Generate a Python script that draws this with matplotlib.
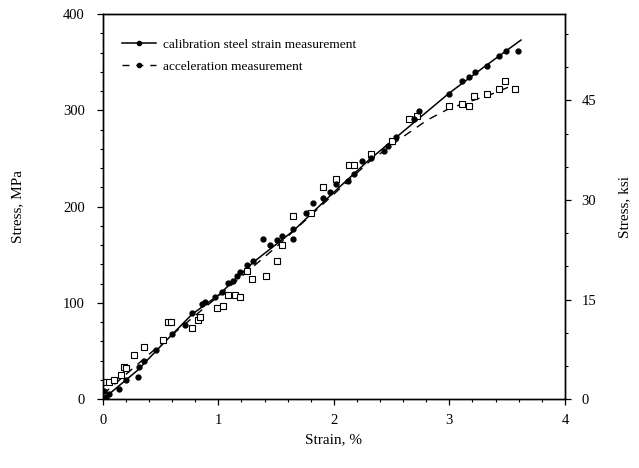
import matplotlib.pyplot as plt
from matplotlib.lines import Line2D
from matplotlib.ticker import MultipleLocator

plt.rcParams['font.family'] = ['Liberation Serif', 'DejaVu Serif']

# calibration steel strain measurement (filled circles)
cal_strain = [0.01, 0.03, 0.05, 0.14, 0.2, 0.3, 0.31, 0.36, 0.46, 0.6, 0.71, 0.77,
              0.86, 0.88, 0.97, 1.03, 1.08, 1.13, 1.16, 1.19, 1.25, 1.30, 1.39, 1.45,
              1.51, 1.55, 1.65, 1.65, 1.76, 1.82, 1.91, 1.97, 2.02, 2.12, 2.17, 2.24,
              2.32, 2.43, 2.47, 2.54, 2.69, 2.74, 3.0, 3.11, 3.17, 3.22, 3.33, 3.43,
              3.49, 3.59]
cal_stress = [9, 2, 5, 11, 20, 23, 33, 40, 51, 68, 77, 90,
              99, 101, 106, 111, 121, 123, 128, 132, 139, 144, 166, 160,
              165, 170, 166, 177, 193, 204, 209, 215, 224, 227, 234, 247,
              250, 258, 263, 272, 291, 299, 317, 330, 335, 340, 346, 356,
              362, 362]

# acceleration measurement (open squares)
acc_strain = [0.01, 0.05, 0.1, 0.16, 0.18, 0.2, 0.27, 0.36, 0.52, 0.56, 0.59, 0.77,
              0.82, 0.84, 0.99, 1.04, 1.08, 1.14, 1.19, 1.25, 1.29, 1.41, 1.51, 1.55,
              1.65, 1.80, 1.91, 2.02, 2.13, 2.17, 2.32, 2.50, 2.65, 2.72, 3.0, 3.11,
              3.17, 3.21, 3.33, 3.43, 3.48, 3.57]
acc_stress = [18, 18, 20, 25, 33, 32, 46, 54, 61, 80, 80, 74,
              82, 85, 95, 97, 108, 108, 106, 133, 125, 128, 144, 160,
              190, 193, 220, 229, 243, 243, 255, 268, 291, 294, 304, 307,
              304, 315, 317, 322, 330, 322]

# fitted curves as drawn in the figure
cal_fit_x = [0.0, 0.3, 0.5, 0.77, 1.0, 1.3, 1.65, 2.0, 2.3, 2.56, 3.0, 3.3, 3.62]
cal_fit_y = [0, 30, 55, 88, 108, 142, 175, 215, 248, 274, 318, 345, 373]
acc_fit_x = [0.0, 0.5, 1.0, 1.5, 2.0, 2.3, 2.58, 2.81, 3.0, 3.37, 3.55]
acc_fit_y = [5, 57, 107, 158, 213, 246, 271, 290, 302, 317, 326]

MPA_PER_KSI = 6.895

fig = plt.figure(figsize=(6.39, 4.68), dpi=100)
ax = fig.add_axes([0.161, 0.147, 0.723, 0.823])

ax.plot(cal_fit_x, cal_fit_y, color='black', lw=1.1)
ax.plot(acc_fit_x, acc_fit_y, color='black', lw=1.0, ls=(0, (6, 5)))
ax.plot(acc_strain, acc_stress, ls='none', marker='s', ms=4.5, mfc='white',
        mec='black', mew=0.8)
ax.plot(cal_strain, cal_stress, ls='none', marker='o', ms=3.5, color='black')

ax.set_xlim(0, 4)
ax.set_ylim(0, 400)
ax.xaxis.set_major_locator(MultipleLocator(1))
ax.xaxis.set_minor_locator(MultipleLocator(0.2))
ax.yaxis.set_major_locator(MultipleLocator(100))
ax.yaxis.set_minor_locator(MultipleLocator(20))
ax.tick_params(which='major', direction='out', length=4, width=0.9, labelsize=10.5)
ax.tick_params(axis='x', which='major', pad=7)
ax.tick_params(axis='y', which='major', pad=9)
ax.tick_params(which='minor', direction='out', length=2.5, width=0.8)
ax.set_xlabel('Strain, %', fontsize=11, labelpad=4)
ax.set_ylabel('Stress, MPa', fontsize=11, labelpad=28)

ax2 = ax.twinx()
ax2.set_ylim(0, 400 / MPA_PER_KSI)
ax2.yaxis.set_major_locator(MultipleLocator(15))
ax2.yaxis.set_minor_locator(MultipleLocator(5))
ax2.tick_params(which='major', direction='out', length=4, width=0.9, labelsize=10.5, pad=8)
ax2.tick_params(which='minor', direction='out', length=2.5, width=0.8)
ax2.set_ylabel('Stress, ksi', fontsize=11, labelpad=16)

for a in (ax, ax2):
    for s in a.spines.values():
        s.set_linewidth(1.0)

handles = [
    Line2D([], [], color='black', lw=1.1, marker='o', ms=3),
    Line2D([], [], color='black', lw=1.0, ls=(0, (5, 5)), marker='o', ms=3),
]
labels = ['calibration steel strain measurement', 'acceleration measurement']
ax.legend(handles, labels, loc='upper left', bbox_to_anchor=(0.015, 0.968),
          frameon=False, fontsize=9.6, handlelength=2.6, handletextpad=0.5,
          labelspacing=0.75)

fig.savefig('out.png', dpi=100)
